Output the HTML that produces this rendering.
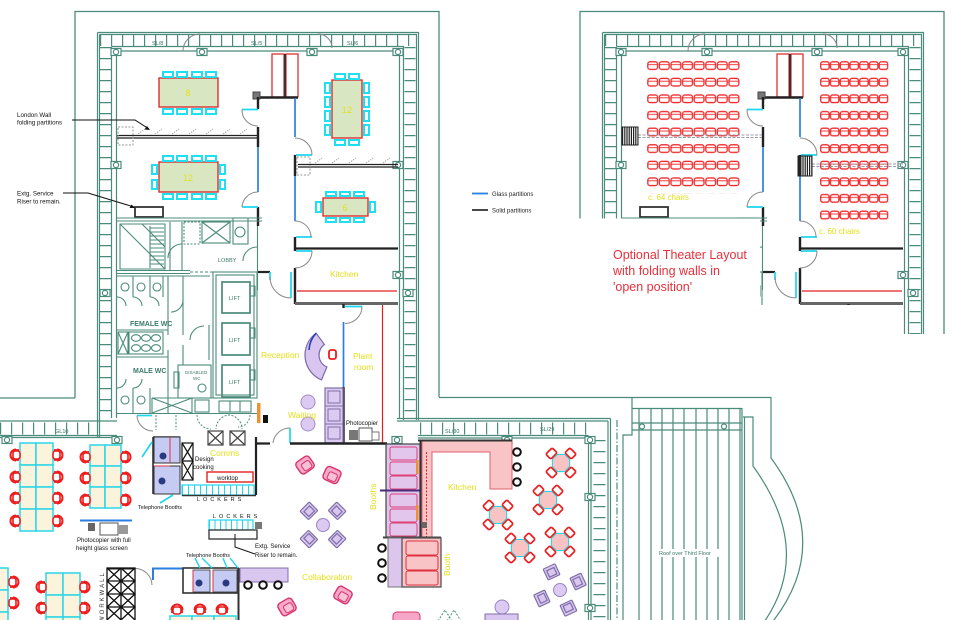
<!DOCTYPE html>
<html><head><meta charset="utf-8"><style>
html,body{margin:0;padding:0;background:#fff;width:956px;height:620px;overflow:hidden}
svg{display:block}
text{font-family:"Liberation Sans",sans-serif}
</style></head><body>
<svg width="956" height="620" viewBox="0 0 956 620" xmlns="http://www.w3.org/2000/svg">
<defs>
 <pattern id="cl" x="647" y="61" width="11.6" height="16.6" patternUnits="userSpaceOnUse">
  <rect x="0.8" y="0.8" width="9.8" height="7.6" rx="2.2" fill="none" stroke="#f0282a" stroke-width="1.3"/>
  <line x1="1" y1="3.6" x2="10.4" y2="3.6" stroke="#f0282a" stroke-width="0.9"/>
 </pattern>
 <pattern id="cr" x="820" y="61" width="9.76" height="16.6" patternUnits="userSpaceOnUse">
  <rect x="0.7" y="0.8" width="8.4" height="7.6" rx="2" fill="none" stroke="#f0282a" stroke-width="1.3"/>
  <line x1="0.9" y1="3.6" x2="8.9" y2="3.6" stroke="#f0282a" stroke-width="0.9"/>
 </pattern>
 <clipPath id="thc"><rect x="575" y="0" width="187" height="218.5"/><rect x="760" y="0" width="140" height="305"/><rect x="900" y="0" width="56" height="334"/></clipPath>
 <g id="cm"><rect x="-5" y="-3.5" width="10" height="7" fill="#fff" stroke="#4b8b7b" stroke-width="1.2"/><circle r="2.6" fill="#fff" stroke="#4b8b7b" stroke-width="1.2"/></g>
 <g id="cafe">
  <polygon points="-3.6,-8.6 3.6,-8.6 8.6,-3.6 8.6,3.6 3.6,8.6 -3.6,8.6 -8.6,3.6 -8.6,-3.6" fill="#f9c3c3" stroke="#2ad6e6" stroke-width="1.1"/>
  <g fill="#fff" stroke="#ee1c1c" stroke-width="1.7">
   <rect x="-4.5" y="-17" width="9" height="7" rx="1.5" transform="rotate(45)"/>
   <rect x="-4.5" y="-17" width="9" height="7" rx="1.5" transform="rotate(135)"/>
   <rect x="-4.5" y="-17" width="9" height="7" rx="1.5" transform="rotate(225)"/>
   <rect x="-4.5" y="-17" width="9" height="7" rx="1.5" transform="rotate(315)"/>
  </g>
 </g>
 <g id="pc">
  <circle r="6.5" fill="#dccaf2" stroke="#9a86c4" stroke-width="1"/>
  <g fill="#d9c7f0" stroke="#7f6fa8" stroke-width="1.2">
   <g transform="rotate(45)"><rect x="-6.5" y="-26" width="13" height="12" rx="1"/><rect x="-4" y="-23" width="8" height="7"/></g>
   <g transform="rotate(135)"><rect x="-6.5" y="-26" width="13" height="12" rx="1"/><rect x="-4" y="-23" width="8" height="7"/></g>
   <g transform="rotate(225)"><rect x="-6.5" y="-26" width="13" height="12" rx="1"/><rect x="-4" y="-23" width="8" height="7"/></g>
   <g transform="rotate(315)"><rect x="-6.5" y="-26" width="13" height="12" rx="1"/><rect x="-4" y="-23" width="8" height="7"/></g>
  </g>
 </g>
 <g id="pa">
  <rect x="-8" y="-7" width="16" height="14" rx="3.5" fill="#f7a9c9" stroke="#d8326c" stroke-width="1.4"/>
  <rect x="-3.5" y="-2.5" width="9" height="8" rx="2" fill="#f9c0d6" stroke="#d8326c" stroke-width="1"/>
 </g>
 <g id="oc">
  <path d="M1,-5.5 A5.5,5.5 0 0 0 1,5.5" fill="none" stroke="#ee1c1c" stroke-width="2"/>
  <rect x="-2" y="-4" width="7" height="8" rx="2.5" fill="#fff" stroke="#ee1c1c" stroke-width="1.6"/>
  <path d="M-1,-5.2H4 M-1,5.2H4" stroke="#ee1c1c" stroke-width="1.4"/>
 </g>
 <g id="st"><circle r="3.8" fill="#fff" stroke="#111" stroke-width="2"/></g>
</defs>

<rect width="956" height="620" fill="#fff"/>

<!-- ============ BASE SHELL (reused for theater) ============ -->
<g id="base">
 <g fill="none" stroke="#4b8b7b" stroke-width="1.2">
  <path d="M75,398V11.5H439V397" stroke-width="1.3"/>
  <path d="M97.5,32.5H418.5V420 M99.5,34.5H416.5V420 M99.5,34.5V437 M97.5,32.5V437 M111.5,46.5H403.5V420 M111.5,46.5V418 M116.5,51H399.5V418 M116.5,51V418"/>
  <line x1="100" y1="40.5" x2="416" y2="40.5" stroke-width="11" stroke-dasharray="1.2 9.8"/>
  <line x1="105.5" y1="47" x2="105.5" y2="420" stroke-width="11" stroke-dasharray="1.2 9.8"/>
  <line x1="410" y1="47" x2="410" y2="420" stroke-width="11" stroke-dasharray="1.2 9.8"/>
  <path d="M183,51A17,17 0 0 1 200,34 M318,34A14,14 0 0 1 332,48" stroke="#888" stroke-width="1"/>
 </g>
 <use href="#cm" x="116" y="52"/><use href="#cm" x="202" y="52"/><use href="#cm" x="312" y="52"/><use href="#cm" x="398" y="52"/>
 <use href="#cm" x="116" y="165"/><use href="#cm" x="398" y="165"/><use href="#cm" x="398" y="275"/>
 <use href="#cm" x="105" y="293"/><use href="#cm" x="408" y="293"/>

 <!-- cabinets & corridor -->
 <g stroke="#e02020" stroke-width="1.2" fill="#fff">
  <rect x="272" y="54" width="12" height="43"/>
  <rect x="286" y="54" width="12" height="43"/>
 </g>
 <line x1="285" y1="54" x2="285" y2="97" stroke="#333" stroke-width="2"/>
 <path d="M258,97.5H298" stroke="#222" stroke-width="2.4"/>
 <rect x="253" y="92" width="7" height="7" fill="#777" stroke="#444"/>
 <path d="M258,97V109 M258,127V147 M258,207V226" stroke="#222" stroke-width="2.4"/>
 <path d="M258,147V192" stroke="#2a7fe0" stroke-width="1.7"/>
 <path d="M242,109.5H258 M242,207H258" stroke="#1ed6ee" stroke-width="1.7"/>
 <path d="M242,109.5A16,16 0 0 0 258,126 M258,192A16,16 0 0 0 242,207" stroke="#888" fill="none"/>
 <path d="M295,98V137 M295,176V221" stroke="#2a7fe0" stroke-width="1.7"/>
 <path d="M295,155V176 M295,237V251 M295,268V304" stroke="#222" stroke-width="2.4"/>
 <path d="M296,155H312 M296,237H312 M296,251H312" stroke="#1ed6ee" stroke-width="1.7"/>
 <path d="M295,138A17,17 0 0 1 312,155 M295,221A16,16 0 0 1 311,237 M312,251A17,17 0 0 1 295,268" stroke="#888" fill="none"/>
 <path d="M295,248.5H398" stroke="#222" stroke-width="2.2"/>
 <path d="M295,303.5H398" stroke="#666" stroke-width="3"/>
 <path d="M297,291H397" stroke="#e02020" stroke-width="1.3"/>
 <path d="M258,272H270" stroke="#222" stroke-width="2.2"/>
 <path d="M270,272V280 M291,272V298" stroke="#1ed6ee" stroke-width="1.7"/>
 <path d="M291,298A21,21 0 0 1 270,277" stroke="#888" fill="none"/>
 <!-- plant room -->
 <path d="M345,306.5H362" stroke="#1ed6ee" stroke-width="1.7"/>
 <path d="M362,306.5A17,17 0 0 1 345,323.5" stroke="#888" fill="none"/>
 <path d="M343.5,322V387" stroke="#2a7fe0" stroke-width="1.7"/>
 <path d="M343.5,387V444 M343.5,304V308" stroke="#222" stroke-width="2.4"/>
 <path d="M382.5,305V444" stroke="#e02020" stroke-width="1.2"/>

 <!-- lower core (stairs, WC, lifts) -->
 <g fill="none" stroke="#4b8b7b" stroke-width="1.1">
  <rect x="135" y="207" width="28" height="10" stroke="#333" stroke-width="1.8"/>
  <path d="M117,218H262 M117,221H262"/>
  <path d="M120,224H165V269H120Z M120,224L165,269 M142,224L165,247 M150,226V268 M170,222V270 M182,222V270"/>
  <path d="M150,228H164 M150,232H164 M150,236H164 M150,240H164 M150,244H164 M150,248H164 M150,252H164 M150,256H164 M150,260H164 M150,264H164"/>
  <rect x="184" y="222" width="16" height="22" stroke-dasharray="2 1.5"/>
  <rect x="202" y="222" width="28" height="21"/>
  <path d="M202,222L230,243 M230,222L202,243"/>
  <rect x="233" y="218" width="15" height="26"/>
  <circle cx="240" cy="232" r="5"/>
  <path d="M117,270.5H190 M117,273.5H190"/>
  <path d="M190,272H214" stroke-dasharray="3 2"/>
  <path d="M182,244A14,14 0 0 0 168,258 M257,247A14,14 0 0 0 243,261"/>
  <path d="M257.5,226V290"/>
  <path d="M117,276H210 M133,276V297 M150,276V297 M163,276V297 M168,276V335 M183,276V335 M117,330H168"/>
  <circle cx="125" cy="287" r="4"/><circle cx="141" cy="287" r="4"/><circle cx="157" cy="287" r="4"/>
  <path d="M117,297A9,9 0 0 1 126,306 M133,297A9,9 0 0 1 142,306 M150,297A9,9 0 0 1 159,306 M183,300A12,12 0 0 1 171,312"/>
  <rect x="118" y="332" width="10" height="22"/>
  <path d="M118,332L128,354 M128,332L118,354"/>
  <rect x="129" y="332" width="34" height="22"/>
  <ellipse cx="136" cy="338" rx="4.5" ry="3.3"/><ellipse cx="146" cy="338" rx="4.5" ry="3.3"/><ellipse cx="156" cy="338" rx="4.5" ry="3.3"/>
  <ellipse cx="136" cy="348" rx="4.5" ry="3.3"/><ellipse cx="146" cy="348" rx="4.5" ry="3.3"/><ellipse cx="156" cy="348" rx="4.5" ry="3.3"/>
  <path d="M117,357H168 M168,350V413 M183,345V365 M190,340A14,14 0 0 1 204,326 M209,325V360"/>
  <path d="M133,388V413 M150,388V413"/>
  <circle cx="125" cy="400" r="4"/><circle cx="141" cy="400" r="4"/>
  <path d="M117,388A9,9 0 0 0 126,379 M133,388A9,9 0 0 0 142,379"/>
  <rect x="178" y="365" width="33" height="33"/>
  <circle cx="202" cy="388" r="4"/>
  <rect x="174" y="372" width="5" height="16"/>
  <path d="M152,398H213 M152,413V398 M192,398V413 M152,398L192,413 M192,398L152,413"/>
  <rect x="195" y="400" width="14" height="12"/>
  <path d="M117,413.5H257"/>
  <rect x="213" y="272" width="44" height="126"/>
  <rect x="216" y="275" width="38" height="120"/>
  <rect x="222" y="282" width="28" height="31" stroke-width="1.7"/>
  <rect x="222" y="323" width="28" height="32" stroke-width="1.7"/>
  <rect x="222" y="365" width="28" height="32" stroke-width="1.7"/>
  <rect x="250" y="286" width="5" height="10"/><rect x="250" y="328" width="5" height="10"/><rect x="250" y="370" width="5" height="10"/>
  <rect x="219" y="401" width="32" height="11"/>
  <path d="M230,401V412 M240,401V412"/>
 </g>
</g>

<!-- ============ TOP-LEFT PLAN SPECIFIC ============ -->
<g fill="#d9e6c2" stroke="#d83030" stroke-width="1.4">
 <rect x="159" y="78" width="59" height="29"/>
 <rect x="159" y="162" width="59" height="30"/>
 <rect x="332" y="80" width="30" height="58"/>
 <rect x="323" y="198" width="45" height="18"/>
</g>
<g fill="#fff" stroke="#1ee0f0" stroke-width="2">
 <rect x="163" y="72" width="10" height="5"/><rect x="177" y="72" width="10" height="5"/><rect x="192" y="72" width="10" height="5"/><rect x="206" y="72" width="10" height="5"/>
 <rect x="163" y="109" width="10" height="5"/><rect x="177" y="109" width="10" height="5"/><rect x="192" y="109" width="10" height="5"/><rect x="206" y="109" width="10" height="5"/>
 <rect x="163" y="156" width="10" height="5"/><rect x="177" y="156" width="10" height="5"/><rect x="192" y="156" width="10" height="5"/><rect x="206" y="156" width="10" height="5"/>
 <rect x="163" y="194" width="10" height="5"/><rect x="177" y="194" width="10" height="5"/><rect x="192" y="194" width="10" height="5"/><rect x="206" y="194" width="10" height="5"/>
 <rect x="152" y="165" width="5" height="9"/><rect x="152" y="180" width="5" height="9"/><rect x="220" y="165" width="5" height="9"/><rect x="220" y="180" width="5" height="9"/>
 <rect x="335" y="74" width="10" height="5"/><rect x="349" y="74" width="10" height="5"/>
 <rect x="335" y="140" width="10" height="5"/><rect x="349" y="140" width="10" height="5"/>
 <rect x="325" y="83" width="5" height="10"/><rect x="325" y="97" width="5" height="10"/><rect x="325" y="111" width="5" height="10"/><rect x="325" y="125" width="5" height="10"/>
 <rect x="364" y="83" width="5" height="10"/><rect x="364" y="97" width="5" height="10"/><rect x="364" y="111" width="5" height="10"/><rect x="364" y="125" width="5" height="10"/>
 <rect x="326" y="192" width="10" height="4"/><rect x="340" y="192" width="10" height="4"/><rect x="354" y="192" width="10" height="4"/>
 <rect x="326" y="218" width="10" height="4"/><rect x="340" y="218" width="10" height="4"/><rect x="354" y="218" width="10" height="4"/>
 <rect x="316" y="202" width="5" height="10"/><rect x="370" y="202" width="5" height="10"/>
</g>
<g fill="#e4e01c" font-size="9" text-anchor="middle">
 <text x="188" y="96">8</text><text x="188" y="181">12</text><text x="347" y="113">12</text><text x="345" y="211">6</text>
</g>
<path d="M117,135.5H258 M117,138H258 M298,164.5H398 M298,167H398" stroke="#222" stroke-width="1.2" fill="none"/>
<rect x="118" y="127" width="15" height="18" fill="none" stroke="#999" stroke-dasharray="2 1.5"/>
<rect x="297" y="157" width="13" height="18" fill="none" stroke="#999" stroke-dasharray="2 1.5"/>
<path d="M138,134l7,-5 M155,134l7,-5 M172,134l7,-5 M189,134l7,-5 M206,134l7,-5 M223,134l7,-5 M240,134l7,-5 M315,163l7,-5 M332,163l7,-5 M349,163l7,-5 M366,163l7,-5 M383,163l7,-5" stroke="#aaa" stroke-dasharray="1.5 1" fill="none"/>
<g font-size="5.5" fill="#2f6f60">
 <text x="152" y="45">SL/8</text><text x="251" y="45">SL/5</text><text x="347" y="45">SL/6</text>
 <text x="445" y="433">SL/30</text><text x="540" y="431">SL/29</text><text x="55" y="433">GL10</text>
</g>
<g font-size="6.2" fill="#111">
 <text x="17" y="117">London Wall</text>
 <text x="17" y="124.5">folding partitions</text>
 <text x="17" y="195.5">Extg. Service</text>
 <text x="17" y="203.5">Riser to remain.</text>
</g>
<path d="M72,120H135L149,129 M63,193H88L134,207" stroke="#111" stroke-width="1" fill="none"/>
<path d="M150,130l-5.5,-0.5l2.5,-3.5z M135,208l-5.5,0l2,-3.5z" fill="#111"/>

<g font-size="7" fill="#3a7a6a" font-weight="bold">
 <text x="130" y="326">FEMALE WC</text>
 <text x="133" y="373">MALE WC</text>
</g>
<g font-size="5.5" fill="#3a7a6a">
 <text x="229" y="300">LIFT</text><text x="229" y="342">LIFT</text><text x="229" y="384">LIFT</text>
 <text x="218" y="262">LOBBY</text>
 <text x="185" y="374" font-size="4.5">DISABLED</text><text x="193" y="380" font-size="4.5">WC</text>
</g>

<!-- reception / waiting -->
<path d="M321.5,379.9A27,27 0 0 1 316.1,333.2L324.4,344.5A13,13 0 0 0 326.9,367Z" fill="#d8c6f0" stroke="#7a6aa8" stroke-width="1.2"/>
<path d="M316.1,333.2A27,27 0 0 0 309,350" stroke="#2840c0" stroke-width="1.6" fill="none"/>
<rect x="329" y="350" width="7" height="9" rx="2" fill="#fff" stroke="#ee1c1c" stroke-width="1.8"/>
<circle cx="308" cy="402" r="7" fill="#dccaf2" stroke="#a48ccc"/>
<circle cx="308" cy="424" r="7" fill="#dccaf2" stroke="#a48ccc"/>
<rect x="325" y="388" width="18" height="55" fill="#dccaf2" stroke="#7f6fa8" stroke-width="1.2"/>
<path d="M325,406H343 M325,424H343" stroke="#7f6fa8"/>
<rect x="328" y="391" width="12" height="12" fill="none" stroke="#7f6fa8"/><rect x="328" y="409" width="12" height="12" fill="none" stroke="#7f6fa8"/><rect x="328" y="427" width="12" height="12" fill="none" stroke="#7f6fa8"/>
<rect x="349" y="430" width="9" height="10" fill="#777"/>
<rect x="359" y="428" width="13" height="13" fill="#fff" stroke="#555"/>
<rect x="372" y="432" width="7" height="8" fill="#fff" stroke="#777"/>
<text x="346" y="425" font-size="6" fill="#111">Photocopier</text>
<rect x="257" y="403" width="3.5" height="20" fill="#f09030"/>
<rect x="263" y="415" width="5" height="8" fill="#111"/>

<!-- ============ LOWER BUILDING SHELL ============ -->
<g fill="none" stroke="#4b8b7b" stroke-width="1.2">
 <path d="M0,398H75"/>
 <path d="M0,421H117 M0,435.5H117 M0,437.5H117"/>
 <line x1="0" y1="428.5" x2="97" y2="428.5" stroke-width="12" stroke-dasharray="1.2 9.8"/>
 <path d="M397,418.5H610.5 M397,421H608 M418,435.5H588.5 M418,438H588.5"/>
 <line x1="420" y1="428.5" x2="588" y2="428.5" stroke-width="12" stroke-dasharray="1.2 9.8"/>
 <path d="M588.5,438V620 M591,438V620 M608,421V620 M610.5,418.5V620"/>
 <line x1="599.5" y1="440" x2="599.5" y2="620" stroke-width="12" stroke-dasharray="1.2 9.8"/>
 <line x1="617" y1="420" x2="617" y2="620" stroke-dasharray="7 2 1.5 2"/>
 <path d="M439,397.5H771V458Q835,545 770,625"/>
 <path d="M632,397.5V435H623V620"/>
 <path d="M743,417H753V466Q815,552 762,625"/>
 <path d="M742,408V620 M744.5,417V620"/>
 <path d="M632,408.5H742 M632,423H742 M632,430H742"/>
 <path d="M639,408V620 M651,408V620 M662,408V620 M673,408V620 M684,408V620 M696,408V620 M707,408V620 M718,408V620 M729,408V620 M740,408V620"/>
 <circle cx="642" cy="426.5" r="2.5" fill="#fff"/>
 <circle cx="724" cy="426.5" r="2.5" fill="#fff"/>
</g>
<rect x="656" y="549" width="70" height="8" fill="#fff"/>
<text x="659" y="555" font-size="5.5" fill="#3a7a6a">Roof over Third Floor</text>
<use href="#cm" x="7" y="440"/><use href="#cm" x="117" y="440"/><use href="#cm" x="397" y="440"/><use href="#cm" x="507" y="440"/>
<use href="#cm" x="590" y="440"/><use href="#cm" x="590" y="497"/><use href="#cm" x="590" y="608"/>

<path d="M256,437V495 M255,443.5H270" stroke="#222" stroke-width="2.2" fill="none"/>
<path d="M290,428V443" stroke="#1ed6ee" stroke-width="1.7"/>
<path d="M290,428A17,17 0 0 0 273,443" stroke="#888" fill="none"/>
<path d="M290,443.5H387" stroke="#222" stroke-width="2.6"/>
<path d="M137,415.5H152" stroke="#1ed6ee" stroke-width="1.7"/>
<path d="M137,415.5A16,16 0 0 0 153,431" stroke="#888" fill="none"/>
<path d="M156,415V430 M176,415V430 M197,415A14,14 0 0 0 211,429 M228,415A14,14 0 0 1 242,429 M230,415A14,14 0 0 0 216,429 M250,415A12,12 0 0 1 238,427" stroke="#4b8b7b" stroke-dasharray="2 1.5" fill="none"/>

<!-- comms / booths -->
<path d="M153,437V494 M153,437H180" stroke="#333" stroke-width="1.6"/>
<rect x="154" y="437" width="26" height="26" fill="#c6cbf4" stroke="#333"/>
<rect x="154" y="466" width="26" height="28" fill="#c6cbf4" stroke="#333"/>
<path d="M170,437V463 M154,466H170" stroke="#e03040"/>
<circle cx="163" cy="456" r="3.5" fill="#2a3a80"/>
<circle cx="162" cy="481" r="3.5" fill="#2a3a80"/>
<path d="M142,457L152,442 M160,503L173,495" stroke="#1ed6ee" stroke-width="1.7"/>
<g fill="none" stroke="#111" stroke-width="1.2">
 <rect x="182" y="443" width="11" height="37"/>
 <path d="M182,443L193,461 M193,443L182,461 M182,461L193,480 M193,461L182,480 M182,461H193"/>
 <rect x="208" y="431" width="15" height="14" stroke="#444"/>
 <path d="M208,431L223,445 M223,431L208,445" stroke="#444"/>
 <rect x="230" y="431" width="15" height="14" stroke="#444"/>
 <path d="M230,431L245,445 M245,431L230,445" stroke="#444"/>
</g>
<rect x="207" y="472" width="46" height="10" fill="#fff" stroke="#e02020" stroke-width="1.4"/>
<text x="217" y="480" font-size="6" fill="#111">worktop</text>
<rect x="182" y="485" width="72" height="10" fill="#fff" stroke="#1ed6ee" stroke-width="1.2"/>
<line x1="182" y1="490" x2="254" y2="490" stroke="#1ed6ee" stroke-width="10" stroke-dasharray="1 5"/>
<path d="M182,495.5H256" stroke="#333" stroke-width="1.5"/>
<g font-size="6" fill="#111">
 <text x="195" y="461">Design</text><text x="193" y="469">cooking</text>
 <text x="197" y="501" font-size="5.5" letter-spacing="3">LOCKERS</text>
 <text x="138" y="509" font-size="5.5">Telephone Booths</text>
 <text x="77" y="542">Photocopier with full</text>
 <text x="76" y="550">height glass screen</text>
 <text x="213" y="518" font-size="5.5" letter-spacing="3">LOCKERS</text>
 <text x="255" y="548">Extg. Service</text>
 <text x="255" y="557">Riser to remain.</text>
 <text x="186" y="557" font-size="5.5">Telephone Booths</text>
</g>
<path d="M80,520.5H132" stroke="#2a7fe0" stroke-width="2"/>
<rect x="88" y="523" width="7" height="8" fill="#666"/>
<rect x="100" y="523" width="18" height="12" fill="#fff" stroke="#555"/>
<rect x="118" y="525" width="10" height="9" fill="#999"/>
<rect x="209" y="520" width="44" height="10" fill="#fff" stroke="#1ed6ee" stroke-width="1.2"/>
<line x1="209" y1="525" x2="253" y2="525" stroke="#1ed6ee" stroke-width="10" stroke-dasharray="1 4.5"/>
<rect x="209" y="530" width="48" height="9" fill="#fff" stroke="#333" stroke-width="1.3"/>
<rect x="255" y="522" width="7" height="7" fill="#777"/>
<path d="M235,534V547L255,554" stroke="#111" fill="none"/>

<!-- bottom booths / workwall -->
<path d="M153,580V568.5H183" stroke="#2a7fe0" stroke-width="2" fill="none"/>
<path d="M107,568.5H135" stroke="#222" stroke-width="2"/>
<path d="M135,568.5A17,17 0 0 1 152,585" stroke="#888" fill="none"/>
<rect x="183" y="568" width="55" height="25" fill="#fff" stroke="#333" stroke-width="1.6"/>
<rect x="193" y="570" width="17" height="22" fill="#c6cbf4" stroke="#333" stroke-width="0.8"/>
<rect x="213" y="570" width="24" height="22" fill="#c6cbf4" stroke="#333" stroke-width="0.8"/>
<path d="M193,570V592 M213,570V592" stroke="#e03040"/>
<circle cx="199" cy="583" r="3.5" fill="#2a3a80"/><circle cx="226" cy="583" r="3.5" fill="#2a3a80"/>
<path d="M238.5,568V620" stroke="#333" stroke-width="2"/>
<path d="M195,558L200,568 M202,558L212,568 M223,558L227,568 M230,558L238,568" stroke="#1ed6ee" stroke-width="1.4"/>
<rect x="240" y="568" width="48" height="14" fill="#d9c7f0" stroke="#7f6fa8"/>
<use href="#st" x="248" y="585"/><use href="#st" x="263" y="585"/><use href="#st" x="278" y="585"/>
<g fill="none" stroke="#111" stroke-width="1.3">
 <rect x="107" y="568" width="28" height="54"/>
 <path d="M121,568V622 M107,581H135 M107,594H135 M107,607H135 M107,568L121,581L107,594L121,607L107,620 M121,568L107,581L121,594L107,607L121,620 M121,568L135,581L121,594L135,607L121,620 M135,568L121,581L135,594L121,607L135,620"/>
</g>
<text transform="translate(104,622) rotate(-90)" font-size="6" fill="#333" letter-spacing="2">WORKWALL</text>

<!-- desk clusters -->
<g fill="#fcf3dc" stroke="#2ad6e6" stroke-width="1.5">
 <rect x="20" y="443" width="16" height="22"/><rect x="36" y="443" width="17" height="22"/>
 <rect x="20" y="465" width="16" height="22"/><rect x="36" y="465" width="17" height="22"/>
 <rect x="20" y="487" width="16" height="22"/><rect x="36" y="487" width="17" height="22"/>
 <rect x="20" y="509" width="16" height="22"/><rect x="36" y="509" width="17" height="22"/>
 <rect x="90" y="445" width="15" height="21"/><rect x="105" y="445" width="16" height="21"/>
 <rect x="90" y="466" width="15" height="21"/><rect x="105" y="466" width="16" height="21"/>
 <rect x="90" y="487" width="15" height="21"/><rect x="105" y="487" width="16" height="21"/>
 <rect x="-5" y="568" width="13" height="22"/><rect x="-5" y="590" width="13" height="22"/><rect x="-5" y="612" width="13" height="22"/>
 <rect x="46" y="573" width="17" height="22"/><rect x="63" y="573" width="17" height="22"/>
 <rect x="46" y="595" width="17" height="22"/><rect x="63" y="595" width="17" height="22"/>
 <rect x="46" y="617" width="17" height="10"/><rect x="63" y="617" width="17" height="10"/>
 <rect x="170" y="616" width="22" height="10"/><rect x="192" y="616" width="22" height="10"/><rect x="214" y="616" width="22" height="10"/>
</g>
<use href="#oc" x="15" y="455"/><use href="#oc" x="15" y="477"/><use href="#oc" x="15" y="498"/><use href="#oc" x="15" y="521"/>
<use href="#oc" transform="translate(58,455) rotate(180)"/><use href="#oc" transform="translate(58,477) rotate(180)"/><use href="#oc" transform="translate(58,498) rotate(180)"/><use href="#oc" transform="translate(58,521) rotate(180)"/>
<use href="#oc" x="85" y="457"/><use href="#oc" x="85" y="478"/><use href="#oc" x="85" y="500"/>
<use href="#oc" transform="translate(126,457) rotate(180)"/><use href="#oc" transform="translate(126,478) rotate(180)"/><use href="#oc" transform="translate(126,500) rotate(180)"/>
<use href="#oc" transform="translate(14,582) rotate(180)"/><use href="#oc" transform="translate(14,603) rotate(180)"/>
<use href="#oc" x="41" y="587"/><use href="#oc" x="41" y="608"/>
<use href="#oc" transform="translate(85,587) rotate(180)"/><use href="#oc" transform="translate(85,608) rotate(180)"/>
<use href="#oc" transform="translate(177,609) rotate(90)"/><use href="#oc" transform="translate(200,609) rotate(90)"/><use href="#oc" transform="translate(222,609) rotate(90)"/>

<!-- booths & kitchen (middle) -->
<rect x="386" y="444" width="34" height="93" fill="#dcc6ee" stroke="#444" stroke-width="1.2"/>
<g fill="#e2c6ec" stroke="#e04078" stroke-width="1">
 <rect x="390" y="447" width="27" height="13" rx="2"/><rect x="390" y="462" width="27" height="13" rx="2"/><rect x="390" y="476" width="27" height="13" rx="2"/>
 <rect x="390" y="494" width="27" height="13" rx="2"/><rect x="390" y="509" width="27" height="13" rx="2"/><rect x="390" y="523" width="27" height="13" rx="2"/>
</g>
<path d="M380,490.5H421" stroke="#4a2a7a" stroke-width="2"/>
<rect x="416" y="460" width="2.5" height="14" fill="#f09030"/>
<rect x="416" y="505" width="2.5" height="15" fill="#f09030"/>
<path d="M422,441H512V489H490V452H432V537H422Z" fill="#f9c4c6" stroke="#e06070"/>
<path d="M420.5,440V537 M418,440.5H512" stroke="#333" stroke-width="2"/>
<path d="M426.5,452V537" stroke="#e02020" stroke-dasharray="2 1.5"/>
<rect x="422" y="522" width="5" height="6" fill="#666"/>
<path d="M383,537.5H441" stroke="#444" stroke-width="2"/>
<rect x="388" y="538" width="14" height="49" fill="#dcc6ee" stroke="#777"/>
<rect x="402" y="538" width="39" height="49" fill="#f9c4c6" stroke="#555" stroke-width="1.3"/>
<g fill="#f9c4c6" stroke="#e03040"><rect x="406" y="541" width="32" height="14" rx="2"/><rect x="406" y="556" width="32" height="14" rx="2"/><rect x="406" y="571" width="32" height="14" rx="2"/></g>
<use href="#st" x="382" y="548"/><use href="#st" x="382" y="563"/><use href="#st" x="382" y="578"/>
<use href="#st" x="517" y="452"/><use href="#st" x="517" y="467"/><use href="#st" x="517" y="482"/>

<use href="#cafe" x="561" y="463"/><use href="#cafe" x="548" y="500"/><use href="#cafe" x="498" y="515"/><use href="#cafe" x="520" y="548"/><use href="#cafe" x="560" y="542"/>
<use href="#pc" x="323" y="525"/>
<use href="#pc" transform="translate(560,590) rotate(20)"/>
<circle cx="502" cy="607" r="7" fill="#dccaf2" stroke="#9a86c4"/>
<rect x="485" y="614" width="33" height="8" fill="#d9c7f0" stroke="#7f6fa8"/>
<use href="#pa" transform="translate(305,465) rotate(-35)"/>
<use href="#pa" transform="translate(332,475) rotate(25)"/>
<use href="#pa" transform="translate(287,607) rotate(-30)"/>
<use href="#pa" transform="translate(343,595) rotate(30)"/>
<rect x="393" y="612" width="27" height="12" rx="4" fill="#f6a6c6" stroke="#d83a6a"/>
<path d="M438,621L445,610L452,621 M447,621L454,610L461,621" stroke="#4b8b7b" stroke-dasharray="2 1.5" fill="none"/>

<!-- yellow labels -->
<g fill="#e4e01c" font-size="8.5">
 <text x="330" y="277">Kitchen</text>
 <text x="261" y="358">Reception</text>
 <text x="353" y="359">Plant</text>
 <text x="354" y="370">room</text>
 <text x="288" y="418">Waiting</text>
 <text x="210" y="456">Comms</text>
 <text x="302" y="580">Collaboration</text>
 <text x="448" y="490">Kitchen</text>
 <text transform="translate(376,510) rotate(-90)">Booths</text>
 <text transform="translate(450,576) rotate(-90)">Booth</text>
 <text x="648" y="200" font-size="8">c. 64 chairs</text>
 <text x="819" y="234" font-size="8">c. 60 chairs</text>
</g>

<!-- ============ THEATER PLAN ============ -->
<g clip-path="url(#thc)"><use href="#base" transform="translate(505,0)"/></g>
<rect x="647" y="61" width="92.8" height="132.8" fill="url(#cl)"/>
<rect x="820" y="61" width="68.3" height="166" fill="url(#cr)"/>
<path d="M638,135H762 M638,137.5H762 M812,164H903 M812,166.5H903" stroke="#9a9aa8" stroke-width="1" stroke-dasharray="3 1.5" fill="none"/>
<line x1="622" y1="136" x2="638" y2="136" stroke="#222" stroke-width="18" stroke-dasharray="1.2 1"/>
<line x1="798" y1="166" x2="812" y2="166" stroke="#222" stroke-width="20" stroke-dasharray="1.2 1"/>
<rect x="622" y="127" width="16" height="18" fill="none" stroke="#222"/>
<rect x="798" y="156" width="14" height="20" fill="none" stroke="#222"/>
<g fill="#e8303c" font-size="12.5">
 <text x="613" y="259">Optional Theater Layout</text>
 <text x="613" y="275">with folding walls in</text>
 <text x="613" y="291">'open position'</text>
</g>

<!-- legend -->
<path d="M472,193.5H488" stroke="#2a7fe0" stroke-width="1.8"/>
<path d="M472,210H488" stroke="#333" stroke-width="1.8"/>
<g font-size="6" fill="#222">
 <text x="492" y="196">Glass partitions</text>
 <text x="492" y="212.5">Solid partitions</text>
</g>
</svg>
</body></html>
